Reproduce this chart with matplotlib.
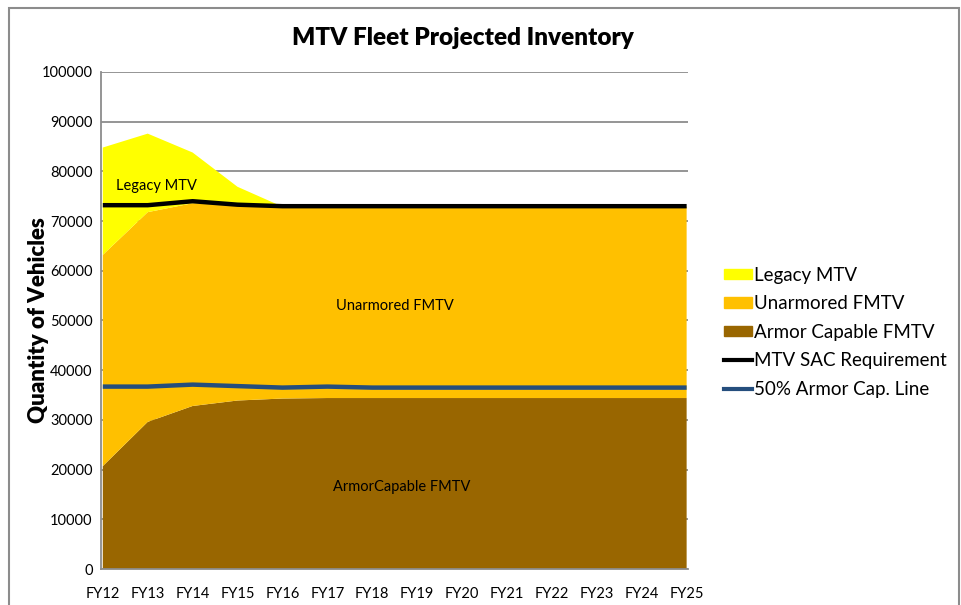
import matplotlib.pyplot as plt
from matplotlib.patches import Rectangle, Patch
from matplotlib.lines import Line2D

plt.rcParams['font.family'] = ['Lato', 'DejaVu Sans']

years = ['FY12', 'FY13', 'FY14', 'FY15', 'FY16', 'FY17', 'FY18', 'FY19',
         'FY20', 'FY21', 'FY22', 'FY23', 'FY24', 'FY25']
armor_capable = [20700, 29600, 32800, 33900, 34300, 34400, 34400, 34400,
                 34400, 34400, 34400, 34400, 34400, 34400]
unarmored = [42500, 42200, 40800, 39300, 38600, 38500, 38500, 38500,
             38500, 38500, 38500, 38500, 38500, 38500]
legacy = [21600, 15800, 10200, 3700, 0, 0, 0, 0, 0, 0, 0, 0, 0, 0]
sac_req = [73200, 73200, 74000, 73300, 73000, 73000, 73000, 73000,
           73000, 73000, 73000, 73000, 73000, 73000]
armor_half = [36700, 36700, 37100, 36800, 36500, 36700, 36500, 36500,
              36500, 36500, 36500, 36500, 36500, 36500]

c_legacy = '#FFFF00'
c_unarm = '#FFC000'
c_armor = '#996600'

fig = plt.figure(figsize=(9.61, 6.05), dpi=100)
ax = fig.add_axes([0.1051, 0.0595, 0.6108, 0.8215])

x = list(range(len(years)))
ax.stackplot(x, armor_capable, unarmored, legacy,
             colors=[c_armor, c_unarm, c_legacy], linewidth=0, zorder=2)
ax.plot(x, sac_req, color='black', lw=3.2, zorder=4, solid_capstyle='butt')
ax.plot(x, armor_half, color='#254E7D', lw=3.2, zorder=4, solid_capstyle='butt')

ax.set_xlim(-0.04, 13.03)
ax.set_ylim(0, 100000)
ax.set_yticks(range(0, 100001, 10000))
ax.set_xticks(x)
ax.set_xticklabels(years)
ax.yaxis.grid(True, color='#8c8c8c', lw=1.3, zorder=1)
ax.set_axisbelow(True)
ax.tick_params(axis='both', length=0, labelsize=10.5, colors='black')
ax.tick_params(axis='y', pad=6)
ax.tick_params(axis='x', pad=13)
for s in ['top', 'right']:
    ax.spines[s].set_visible(False)
for s in ['left', 'bottom']:
    ax.spines[s].set_color('#8c8c8c')
    ax.spines[s].set_linewidth(1.3)

ax.set_ylabel('Quantity of Vehicles', fontsize=16, fontweight='heavy')
ax.yaxis.set_label_coords(-0.088, 0.5)
fig.text(0.482, 0.937, 'MTV Fleet Projected Inventory', ha='center', va='center',
         fontsize=17.5, fontweight='heavy')

ax.text(1.2, 77000, 'Legacy MTV', ha='center', va='center', fontsize=10.5)
ax.text(6.5, 53000, 'Unarmored FMTV', ha='center', va='center', fontsize=10.5)
ax.text(6.65, 16500, 'ArmorCapable FMTV', ha='center', va='center', fontsize=10.5)

handles = [Patch(color=c_legacy), Patch(color=c_unarm), Patch(color=c_armor),
           Line2D([], [], color='black', lw=3), Line2D([], [], color='#254E7D', lw=3)]
labels = ['Legacy MTV', 'Unarmored FMTV', 'Armor Capable FMTV',
          'MTV SAC Requirement', '50% Armor Cap. Line']
fig.legend(handles, labels, loc='upper left', bbox_to_anchor=(0.7435, 0.575),
           frameon=False, fontsize=13.5, handlelength=1.5, handleheight=0.5,
           handletextpad=0.1, labelspacing=0.62, borderpad=0)

fig.patches.append(Rectangle((9 / 961, -0.05), 950 / 961, 1.05 - 8 / 605,
                             transform=fig.transFigure, fill=False,
                             edgecolor='#8c8c8c', lw=1.5))

fig.savefig('out.png', dpi=100)
